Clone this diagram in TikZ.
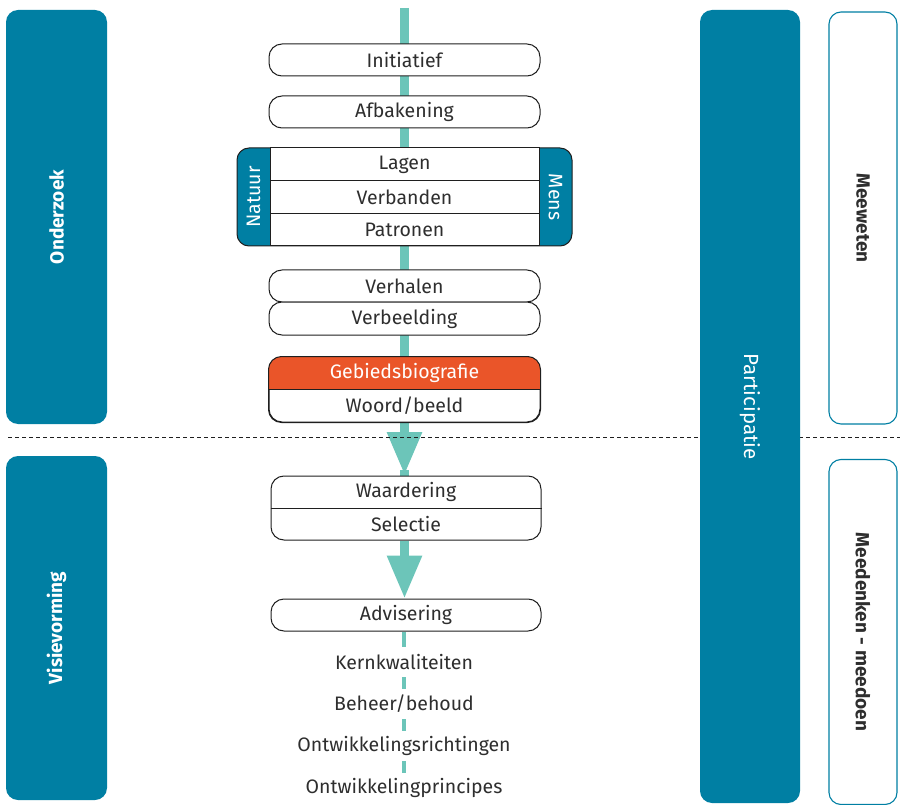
\documentclass[tikz,border=0pt]{standalone}
\usepackage{fontspec}
\setmainfont{Fira Sans}
\usetikzlibrary{arrows.meta,backgrounds,calc}
\definecolor{pblue}{HTML}{007FA3}
\definecolor{pteal}{HTML}{6CC5B9}
\definecolor{porange}{HTML}{EA5529}
\definecolor{ptext}{HTML}{2E2E2E}
\definecolor{pedge}{HTML}{1F1F1F}
\begin{document}
\begin{tikzpicture}[x=1pt,y=-1pt,
  txt/.style={font=\fontsize{19.5}{22}\selectfont, text=ptext},
  pill/.style={txt, draw=pedge, line width=1pt, fill=white, rounded corners=13pt,
    minimum width=271pt, minimum height=32pt, inner sep=0pt},
  cell/.style={txt, draw=pedge, line width=1pt, fill=white,
    minimum width=269pt, minimum height=33pt, inner sep=0pt},
  plain/.style={txt, inner sep=0pt},
  sidebar/.style={fill=pblue, rounded corners=12pt, text=white, inner sep=0pt,
    font=\fontsize{19}{22}\selectfont\bfseries},
  outlinebox/.style={draw=pblue, line width=1.1pt, fill=white, rounded corners=12pt,
    text=ptext, inner sep=0pt, font=\fontsize{19}{22}\selectfont\bfseries},
  tablabel/.style={text=white, inner sep=0pt, font=\fontsize{19.5}{22}\selectfont},
  flow/.style={pteal, line width=9pt, -{Triangle[width=33pt,length=43pt]}},
  sep/.style={pedge, line width=0.8pt, dash pattern=on 4pt off 3pt},
  listlabel/.style={txt, fill=white, inner sep=0pt, minimum height=30pt, minimum width=10pt}
]
\useasboundingbox (0,0) rectangle (900,805);

% dashed separator
\coordinate (sepL) at (8,437);
\coordinate (sepR) at (900,437);
\draw[sep] (sepL) -- (sepR);

% left phase bars
\node[sidebar, rotate=90, minimum width=414pt, minimum height=101pt] (onderzoek) at (56.5,217) {Onderzoek};
\node[sidebar, rotate=90, minimum width=344pt, minimum height=101pt] (visie) at (56.5,628) {Visievorming};

% participation column
\node[sidebar, rotate=-90, minimum width=793pt, minimum height=100pt, font=\fontsize{20.5}{23}\selectfont] (particip) at (750,406.5) {Participatie};
\node[outlinebox, rotate=-90, minimum width=412pt, minimum height=68pt] (meeweten) at (863,218) {Meeweten};
\node[outlinebox, rotate=-90, minimum width=345pt, minimum height=68pt] (meedenken) at (863,632) {Meedenken - meedoen};

% central column
\coordinate (flowtop) at (404.5,8);
\node[pill] (init) at (404.5,60) {Initiatief};
\node[pill] (afb) at (404.5,112) {Afbakening};

\node[draw=pedge, line width=1pt, fill=pblue, rounded corners=12pt, minimum width=335pt, minimum height=98pt, inner sep=0pt] (grp) at (404.5,197) {};
\node[cell] (lagen) at (404.5,164.5) {Lagen};
\node[cell] (verb) at (404.5,197.5) {Verbanden};
\node[cell, minimum height=32pt] (patr) at (404.5,230) {Patronen};
\node[tablabel, rotate=90] (natuur) at (253.5,197) {Natuur};
\node[tablabel, rotate=-90] (mens) at (555.5,197) {Mens};

\node[pill] (verh) at (404.5,286) {Verhalen};
\node[pill, minimum height=33pt] (verbeeld) at (404.5,318.5) {Verbeelding};

\node[draw=pedge, line width=1pt, fill=white, rounded corners=13pt, minimum width=271pt, minimum height=65pt, inner sep=0pt] (bio) at (404.5,389.5) {};
\begin{scope}
  \clip (bio.north west) rectangle (bio.east);
  \fill[porange, rounded corners=13pt] (bio.north west) rectangle (bio.south east);
\end{scope}
\draw[pedge, line width=1pt, rounded corners=13pt] (bio.north west) rectangle (bio.south east);
\draw[pedge, line width=1pt] (bio.west) -- (bio.east);
\node[plain, text=white] (gebied) at (404.5,373) {Gebiedsbiografie};
\node[plain] (woord) at (404.5,406) {Woord/beeld};

\node[draw=pedge, line width=1pt, fill=white, rounded corners=13pt, minimum width=270pt, minimum height=64pt, inner sep=0pt] (ws) at (406,508) {};
\draw[pedge, line width=1pt] (ws.west) -- (ws.east);
\node[plain] (waard) at (406,492) {Waardering};
\node[plain] (selec) at (406,524) {Selectie};

\node[pill, minimum width=270pt] (advis) at (406,615) {Advisering};

\node[listlabel] (kern) at (404,662) {Kernkwaliteiten};
\node[listlabel] (beheer) at (404,704) {Beheer/behoud};
\node[listlabel] (richt) at (404,746) {Ontwikkelingsrichtingen};
\node[listlabel] (princ) at (404,788) {Ontwikkelingprincipes};

\begin{scope}[on background layer]
  \draw[flow] (flowtop) -- (404.5,475);
  \draw[pteal, line width=9pt] (404.5,470) -- (ws.north -| 404.5,0);
  \draw[flow] (ws.south -| 404.5,0) -- (advis.north -| 404.5,0);
  \draw[pteal, line width=4pt] (advis.south -| 404,0) -- (princ.north -| 404,0);
\end{scope}
\end{tikzpicture}
\end{document}
